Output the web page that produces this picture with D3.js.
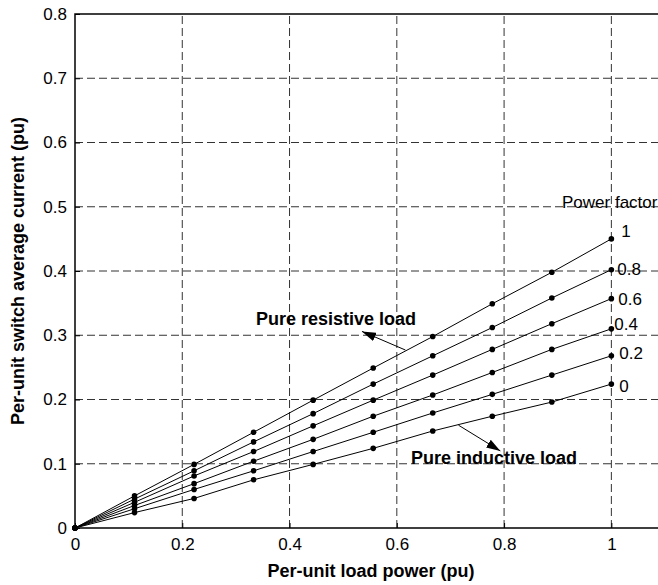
<!DOCTYPE html>
<html>
<head>
<meta charset="utf-8">
<script src="https://cdn.jsdelivr.net/npm/d3@7"></script>
<style>
  body { margin: 0; background: #fff; }
  text { font-family: "Liberation Sans", Arial, sans-serif; fill: #000; }
  .tick-label { font-size: 17px; }
  .axis-label { font-size: 18px; font-weight: bold; }
  .note { font-size: 18px; font-weight: bold; }
  .pf-label { font-size: 17px; }
</style>
</head>
<body>
<script>
// load power points (pu)
var loadPower = [0, 0.111, 0.222, 0.333, 0.444, 0.556, 0.667, 0.778, 0.889, 1];

var powerFactors = ["1", "0.8", "0.6", "0.4", "0.2", "0"];

// switch average current (pu), one array per power factor
var pf1  = [0, 0.050, 0.099, 0.149, 0.199, 0.249, 0.298, 0.349, 0.398, 0.450];
var pf08 = [0, 0.045, 0.089, 0.134, 0.178, 0.224, 0.268, 0.312, 0.358, 0.402];
var pf06 = [0, 0.040, 0.081, 0.119, 0.159, 0.199, 0.238, 0.278, 0.318, 0.357];
var pf04 = [0, 0.035, 0.069, 0.104, 0.138, 0.174, 0.207, 0.242, 0.278, 0.310];
var pf02 = [0, 0.030, 0.060, 0.089, 0.119, 0.149, 0.179, 0.208, 0.238, 0.268];
var pf0  = [0, 0.024, 0.046, 0.075, 0.099, 0.124, 0.151, 0.174, 0.196, 0.224];

var xTicks = [0, 0.2, 0.4, 0.6, 0.8, 1];
var yTicks = [0, 0.1, 0.2, 0.3, 0.4, 0.5, 0.6, 0.7, 0.8];

var series = [pf1, pf08, pf06, pf04, pf02, pf0];

var width = 658, height = 585;
var margin = {top: 14, left: 75, bottom: 57};

var x = d3.scaleLinear().domain([0, 1.1]).range([margin.left, 665]);
var y = d3.scaleLinear().domain([0, 0.8]).range([height - margin.bottom, margin.top]);

var svg = d3.select("body").append("svg")
    .attr("width", width)
    .attr("height", height);

// grid
svg.append("g").selectAll("line")
    .data(xTicks.filter(function(d) { return d > 0; }))
    .enter().append("line")
    .attr("x1", function(d) { return x(d); })
    .attr("x2", function(d) { return x(d); })
    .attr("y1", y(0))
    .attr("y2", y(0.8))
    .attr("stroke", "#333")
    .attr("stroke-width", 1)
    .attr("stroke-dasharray", "8,4");

svg.append("g").selectAll("line")
    .data(yTicks.filter(function(d) { return d > 0 && d < 0.8; }))
    .enter().append("line")
    .attr("x1", x(0))
    .attr("x2", x(1.1))
    .attr("y1", function(d) { return y(d); })
    .attr("y2", function(d) { return y(d); })
    .attr("stroke", "#333")
    .attr("stroke-width", 1)
    .attr("stroke-dasharray", "8,4");

// axes
var xAxis = d3.axisBottom(x).tickValues(xTicks).tickSize(-5).tickPadding(10)
    .tickFormat(function(d) { return d3.format("")(d); });
var yAxis = d3.axisLeft(y).tickValues(yTicks).tickSize(-5).tickPadding(8)
    .tickFormat(function(d) { return d3.format("")(d); });

var gx = svg.append("g")
    .attr("transform", "translate(0," + y(0) + ")")
    .call(xAxis);
var gy = svg.append("g")
    .attr("transform", "translate(" + x(0) + ",0)")
    .call(yAxis);

[gx, gy].forEach(function(g) {
    g.select(".domain").remove();
    g.selectAll(".tick line").attr("stroke", "#000");
    g.selectAll(".tick text")
        .attr("class", "tick-label")
        .attr("font-family", null)
        .attr("font-size", null)
        .attr("fill", "#000");
});

// box (top and left/bottom edges)
svg.append("path")
    .attr("d", "M" + x(1.1) + "," + y(0.8) + "H" + x(0) + "V" + y(0) + "H" + x(1.1))
    .attr("fill", "none")
    .attr("stroke", "#000")
    .attr("stroke-width", 1.5);

// lines and markers
var line = d3.line()
    .x(function(d, i) { return x(loadPower[i]); })
    .y(function(d) { return y(d); });

series.forEach(function(s) {
    svg.append("path")
        .datum(s)
        .attr("d", line)
        .attr("fill", "none")
        .attr("stroke", "#000")
        .attr("stroke-width", 1);

    svg.append("g").selectAll("circle")
        .data(s)
        .enter().append("circle")
        .attr("cx", function(d, i) { return x(loadPower[i]); })
        .attr("cy", function(d) { return y(d); })
        .attr("r", 2.8)
        .attr("fill", "#000");
});

// power factor labels
var pfLabelDx = [10, 6, 7, 3, 8, 8];
var pfLabelDy = [-2, 5, 6, 1, 3, 8];

svg.append("text")
    .attr("class", "pf-label")
    .attr("x", 562)
    .attr("y", 208)
    .text("Power factor");

svg.selectAll(".pf")
    .data(powerFactors)
    .enter().append("text")
    .attr("class", "pf-label")
    .attr("x", function(d, i) { return x(1) + pfLabelDx[i]; })
    .attr("y", function(d, i) { return y(series[i][9]) + pfLabelDy[i]; })
    .text(function(d) { return d; });

// annotations with arrows
svg.append("defs").append("marker")
    .attr("id", "arrow")
    .attr("viewBox", "0 0 14 9")
    .attr("refX", 14)
    .attr("refY", 4.5)
    .attr("markerWidth", 14)
    .attr("markerHeight", 9)
    .attr("markerUnits", "userSpaceOnUse")
    .attr("orient", "auto")
    .append("path")
    .attr("d", "M0,0L14,4.5L0,9Z")
    .attr("fill", "#000");

svg.append("line")
    .attr("x1", x(0.616)).attr("y1", y(0.277))
    .attr("x2", x(0.535)).attr("y2", y(0.306))
    .attr("stroke", "#000")
    .attr("marker-end", "url(#arrow)");

svg.append("text")
    .attr("class", "note")
    .attr("x", 256)
    .attr("y", 325)
    .text("Pure resistive load");

svg.append("line")
    .attr("x1", x(0.715)).attr("y1", y(0.160))
    .attr("x2", x(0.793)).attr("y2", y(0.120))
    .attr("stroke", "#000")
    .attr("marker-end", "url(#arrow)");

svg.append("text")
    .attr("class", "note")
    .attr("x", 411)
    .attr("y", 464)
    .text("Pure inductive load");

// axis titles
svg.append("text")
    .attr("class", "axis-label")
    .attr("x", 371)
    .attr("y", 577)
    .attr("text-anchor", "middle")
    .text("Per-unit load power (pu)");

svg.append("text")
    .attr("class", "axis-label")
    .attr("transform", "translate(24," + ((y(0) + y(0.8)) / 2) + ") rotate(-90)")
    .attr("text-anchor", "middle")
    .text("Per-unit switch average current (pu)");
</script>
</body>
</html>
